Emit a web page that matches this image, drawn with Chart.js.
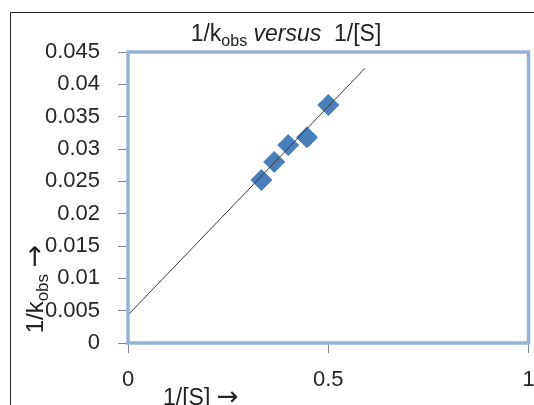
<!DOCTYPE html>
<html>
<head>
<meta charset="utf-8">
<script src="https://cdn.jsdelivr.net/npm/chart.js@4.4.1/dist/chart.umd.min.js"></script>
<style>
  html, body { margin: 0; padding: 0; background: #fff; overflow: hidden; }
  #wrap { width: 540px; height: 405px; position: relative; }
</style>
</head>
<body>
<div id="wrap"><canvas id="kinChart"></canvas></div>
<script>
// mjerne tocke 1/[S] i 1/kobs
const invS = [0.333, 0.365, 0.4, 0.447, 0.5];
const invK = [0.0252, 0.0280, 0.0306, 0.0318, 0.0368];

// linija trenda (pocetak i kraj)
const trendX = [0, 0.592];
const trendY = [0.00433, 0.0425];

const xTicks = [0, 0.5, 1];
const yTicks = [0, 0.005, 0.01, 0.015, 0.02, 0.025, 0.03, 0.035, 0.04, 0.045];

const FONT = "'Liberation Sans', Arial, sans-serif";
const ARROW = "'DejaVu Sans', sans-serif";

// tekst s indeksom (k_obs) i kurzivom
function drawParts(ctx, parts, x, y, align) {
  let total = 0;
  parts.forEach(p => { ctx.font = p.font; total += ctx.measureText(p.t).width; });
  let cx = align === 'center' ? x - total / 2 : x;
  parts.forEach(p => {
    ctx.font = p.font;
    ctx.fillText(p.t, cx, y + (p.dy || 0));
    cx += ctx.measureText(p.t).width;
  });
}

const decorPlugin = {
  id: 'decor',
  afterDraw(chart) {
    const ctx = chart.ctx;
    const a = chart.chartArea;
    ctx.save();
    // okvir slike
    ctx.strokeStyle = '#222';
    ctx.lineWidth = 1;
    ctx.beginPath();
    ctx.moveTo(10.5, 410);
    ctx.lineTo(10.5, 12.5);
    ctx.lineTo(545, 12.5);
    ctx.stroke();
    // plavi okvir podrucja grafa
    ctx.strokeStyle = '#95B3D7';
    ctx.lineWidth = 3.5;
    ctx.strokeRect(a.left, a.top, a.right - a.left, a.bottom - a.top);

    ctx.fillStyle = '#222';
    ctx.textBaseline = 'alphabetic';
    // naslov
    drawParts(ctx, [
      { t: '1/k', font: '23px ' + FONT },
      { t: 'obs', font: '16px ' + FONT, dy: 5 },
      { t: ' ', font: '23px ' + FONT },
      { t: 'versus', font: 'italic 23px ' + FONT },
      { t: '  1/[S]', font: '23px ' + FONT }
    ], 286, 41, 'center');

    // naslov osi x
    drawParts(ctx, [
      { t: '1/[S] ', font: '23px ' + FONT },
      { t: '\u2192', font: '26px ' + ARROW }
    ], 163, 405, 'left');

    // naslov osi y
    ctx.translate(43, 289);
    ctx.rotate(-Math.PI / 2);
    drawParts(ctx, [
      { t: '1/k', font: '24px ' + FONT },
      { t: 'obs', font: '17px ' + FONT, dy: 5 },
      { t: ' ', font: '24px ' + FONT },
      { t: '\u2192', font: '27px ' + ARROW }
    ], 0, 0, 'center');
    ctx.restore();
  }
};

const ctx = document.getElementById('kinChart').getContext('2d');
const kinChart = new Chart(ctx, {
  type: 'scatter',
  data: {
    datasets: [{
      label: 'trend',
      data: trendX.map((x, i) => ({ x: x, y: trendY[i] })),
      showLine: true,
      borderColor: '#3a3a3a',
      borderWidth: 1,
      pointRadius: 0
    }, {
      label: '1/kobs',
      data: invS.map((x, i) => ({ x: x, y: invK[i] })),
      pointStyle: 'rectRot',
      pointRadius: 10.5,
      backgroundColor: '#4A7EBB',
      borderColor: '#4A7EBB',
      borderWidth: 1
    }]
  },
  options: {
    responsive: true,
    maintainAspectRatio: false,
    animation: false,
    layout: { padding: { left: 0, top: 52, right: 0, bottom: 0 } },
    plugins: {
      legend: { display: false },
      title: { display: false },
      tooltip: { enabled: false }
    },
    scales: {
      x: {
        type: 'linear',
        min: 0,
        max: 1,
        afterBuildTicks: s => { s.ticks = xTicks.map(v => ({ value: v })); },
        afterFit: s => { s.height = 62; s.paddingLeft = 0; s.paddingRight = 0; },
        grid: { drawOnChartArea: false, tickLength: 10, color: '#868686' },
        border: { color: '#868686' },
        ticks: {
          padding: 14,
          color: '#262626',
          font: { family: FONT, size: 22 },
          callback: v => String(v)
        }
      },
      y: {
        type: 'linear',
        min: 0,
        max: 0.045,
        afterBuildTicks: s => { s.ticks = yTicks.map(v => ({ value: v })); },
        afterFit: s => { s.width = 128; s.paddingTop = 0; s.paddingBottom = 0; },
        grid: { drawOnChartArea: false, tickLength: 10, color: '#868686' },
        border: { color: '#868686' },
        ticks: {
          padding: 18,
          color: '#262626',
          font: { family: FONT, size: 22 },
          callback: v => String(+v.toFixed(3))
        }
      }
    }
  },
  plugins: [decorPlugin]
});
</script>
</body>
</html>
